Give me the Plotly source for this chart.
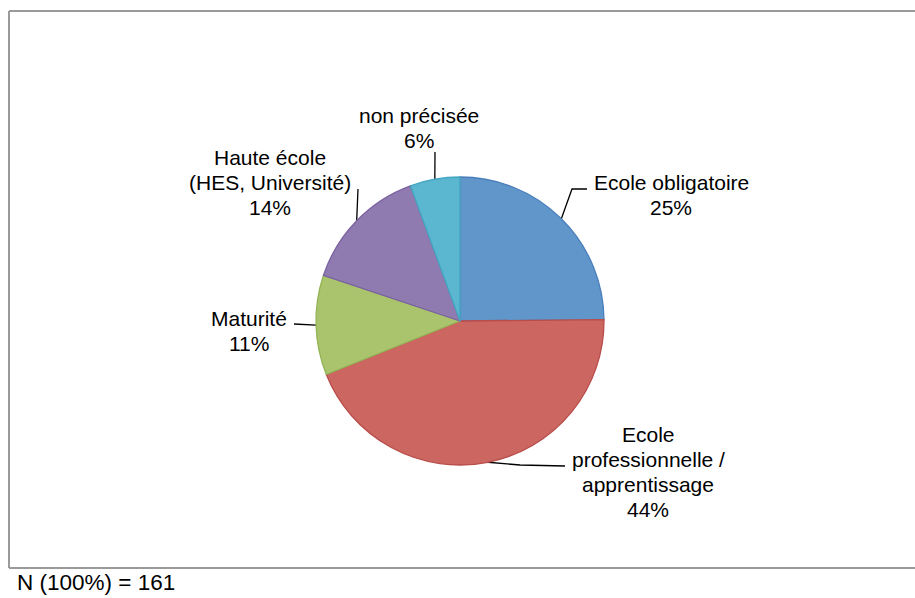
import math
import plotly.graph_objects as go

# ---- data ----
categories = ["Ecole obligatoire", "Ecole professionnelle / apprentissage",
              "Maturité", "Haute école (HES, Université)", "non précisée"]
counts = [40, 71, 18, 23, 9]          # N = 161
percent_labels = ["25%", "44%", "11%", "14%", "6%"]
label_lines = [["Ecole obligatoire"],
               ["Ecole", "professionnelle /", "apprentissage"],
               ["Maturité"],
               ["Haute école", "(HES, Université)"],
               ["non précisée"]]
note_text = "N (100%) = 161"

# ---- style / layout ----
W, H = 915, 598
CX, CY, R = 460, 321, 144
fills = ["#6096CA", "#CC6661", "#A9C46C", "#907BB0", "#5BB7CF"]
edges = ["#4A7EBB", "#B84D4A", "#93B456", "#7B62A0", "#44A6C1"]
FONT = "Liberation Sans, Arial, Helvetica, sans-serif"
FS = 21
LS = 25  # line spacing px
label_pos = [(671, 182), (648, 434), (249, 318), (270, 157), (419, 115)]
leader_elbows = [[(572, 189), (587, 189)],
                 [(520, 465), (565, 466)],
                 [(294, 324)],
                 [(358, 189)],
                 [(435, 152)]]

fig = go.Figure()
fig.add_trace(go.Pie(
    labels=categories, values=counts, sort=False, direction="clockwise",
    rotation=0, textinfo="none", hoverinfo="label+percent",
    marker=dict(colors=fills, line=dict(color=edges, width=1.3)),
    domain=dict(x=[(CX - R) / W, (CX + R) / W],
                y=[(H - CY - R) / H, (H - CY + R) / H]),
    showlegend=False,
))

total = sum(counts)
cum = 0
for i, c in enumerate(counts):
    mid = (cum + c / 2) / total * 2 * math.pi
    cum += c
    ax_ = CX + R * math.sin(mid)
    ay_ = CY - R * math.cos(mid)
    xs = [ax_] + [p[0] for p in leader_elbows[i]]
    ys = [ay_] + [p[1] for p in leader_elbows[i]]
    fig.add_trace(go.Scatter(x=xs, y=ys, mode="lines",
                             line=dict(color="#000000", width=1.3),
                             hoverinfo="skip", showlegend=False,
                             xaxis="x", yaxis="y"))

annotations = []
for i, lines in enumerate(label_lines):
    x0, y0 = label_pos[i]
    for j, t in enumerate(lines + [percent_labels[i]]):
        annotations.append(dict(x=x0, y=y0 + j * LS, xref="x", yref="y",
                                text=t, showarrow=False, xanchor="center",
                                yanchor="middle",
                                font=dict(family=FONT, size=FS, color="#000")))
annotations.append(dict(x=15, y=582, xref="x", yref="y", text=note_text,
                        showarrow=False, xanchor="left", yanchor="middle",
                        font=dict(family=FONT, size=22.5, color="#000")))

# open frame: left side plus top and bottom running to the right edge
fx0, fx1, fy0, fy1 = 9, W, 11, 568

fig.update_layout(
    width=W, height=H, margin=dict(l=0, r=0, t=0, b=0),
    paper_bgcolor="white", plot_bgcolor="rgba(0,0,0,0)",
    xaxis=dict(range=[0, W], visible=False, fixedrange=True),
    yaxis=dict(range=[H, 0], visible=False, fixedrange=True),
    annotations=annotations,
    shapes=[
        dict(type="line", xref="x", yref="y", x0=fx0, x1=fx1, y0=fy0, y1=fy0,
             line=dict(color="#9a9a9a", width=2), layer="below"),
        dict(type="line", xref="x", yref="y", x0=fx0, x1=fx0, y0=fy0, y1=fy1,
             line=dict(color="#9a9a9a", width=2), layer="below"),
        dict(type="line", xref="x", yref="y", x0=fx0, x1=fx1, y0=fy1, y1=fy1,
             line=dict(color="#9a9a9a", width=2), layer="below"),
    ],
)

fig.write_html("out.html",
               config={"displayModeBar": False},
               post_script="document.body.style.margin='0px';"
                           "document.body.style.overflow='hidden';")
